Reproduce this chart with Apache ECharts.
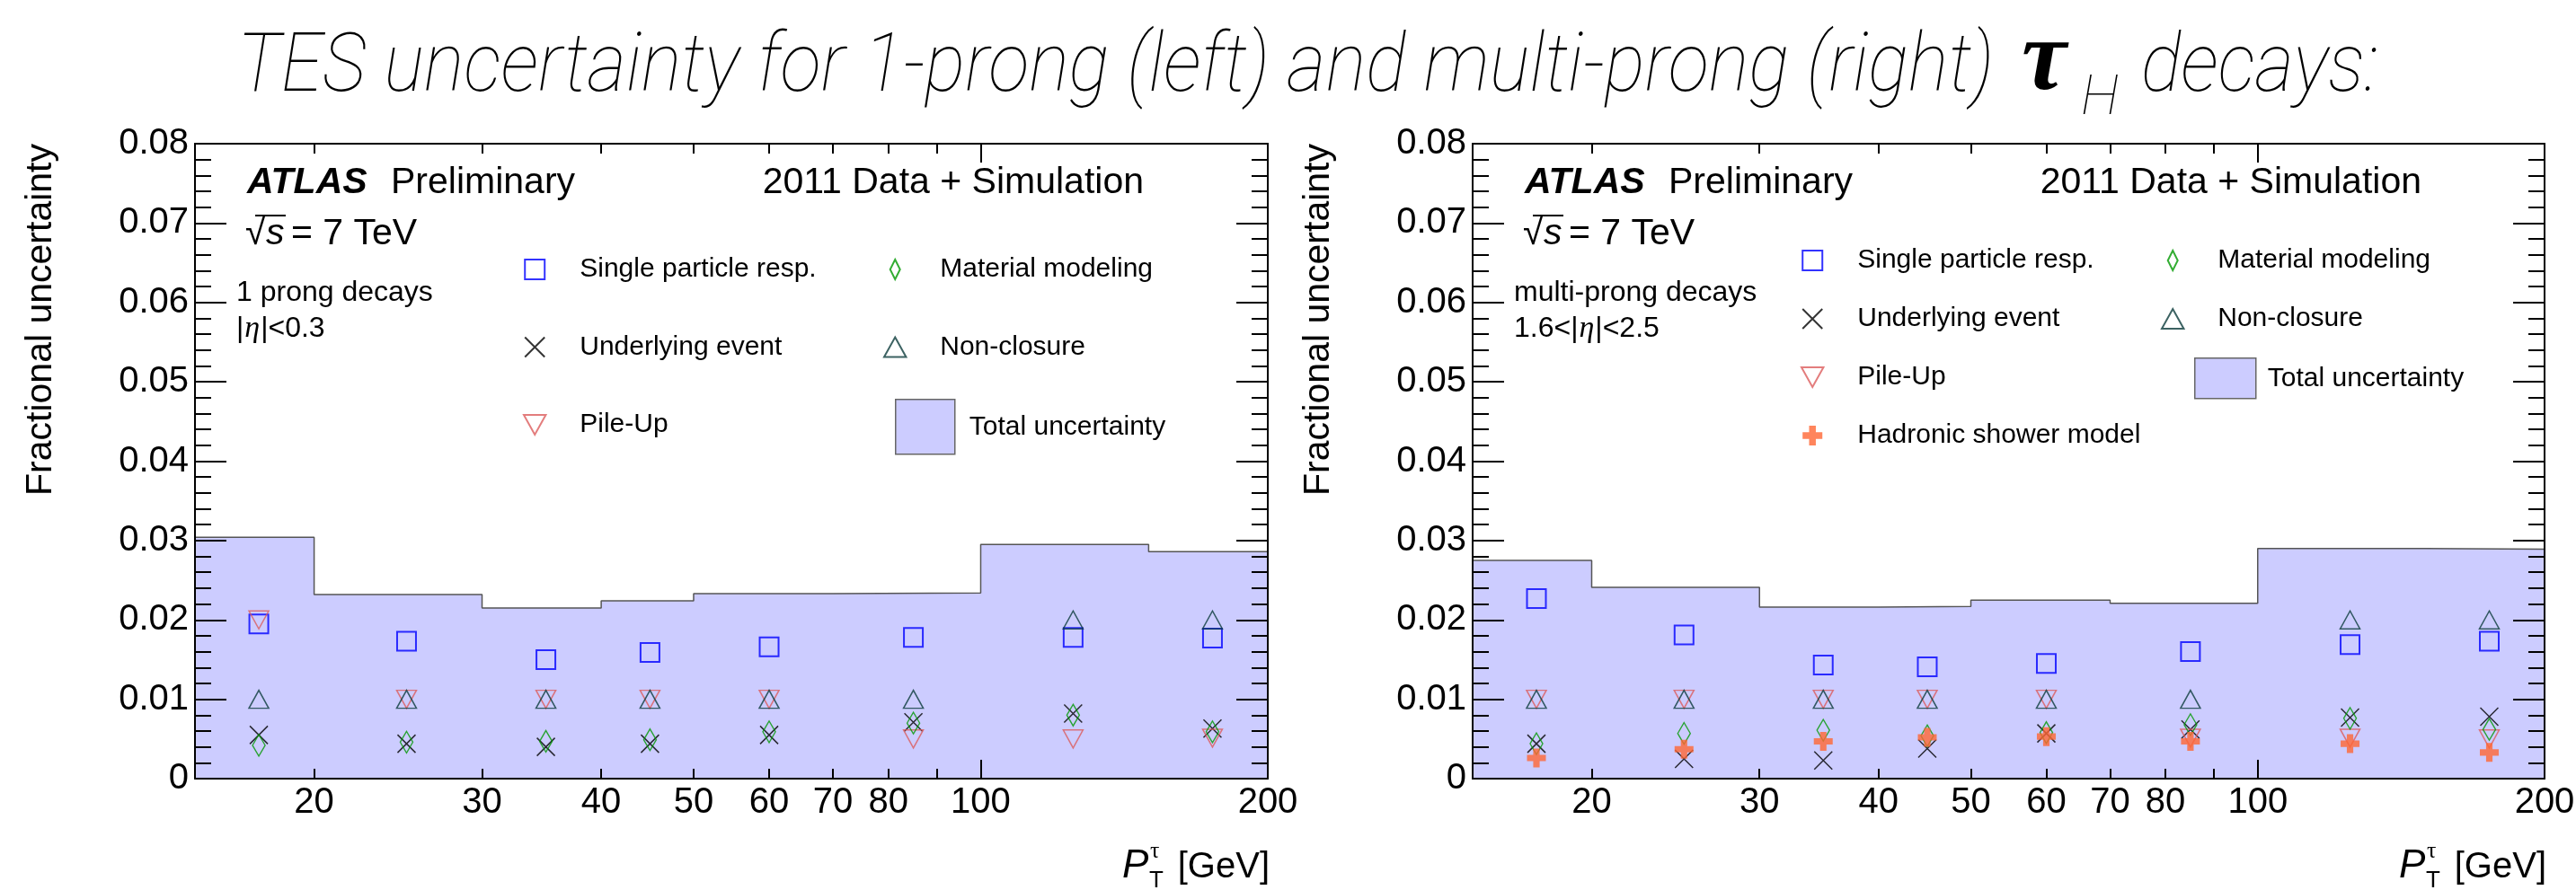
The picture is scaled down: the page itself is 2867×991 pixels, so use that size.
<!DOCTYPE html>
<html>
<head>
<meta charset="utf-8">
<title>TES uncertainty</title>
<script src="https://cdn.jsdelivr.net/npm/echarts@6/dist/echarts.min.js"></script>
<style>
  html, body { margin: 0; padding: 0; background: #fff; }
  #chart { width: 2867px; height: 991px; }
</style>
</head>
<body>
<div id="chart"></div>
<script>
// pT binning (GeV)
var binEdges = [15, 20, 30, 40, 50, 70, 100, 150, 200]
var binCenters = [17.5, 25, 35, 45, 60, 85, 125, 175]
var xTickLabels = [20, 30, 40, 50, 60, 70, 80, 100, 200]
var xSmallTicks = [20, 30, 40, 50, 60, 70, 80, 90, 200]
var xBigTicks = [100]

// 1-prong, |eta| < 0.3
var total1 = [0.0304, 0.0232, 0.0215, 0.0224, 0.0233, 0.0234, 0.0295, 0.0286]
var single1 = [0.0195, 0.0173, 0.0150, 0.0159, 0.0166, 0.0178, 0.0178, 0.0177]
var ue1 = [0.0055, 0.0044, 0.0040, 0.0044, 0.0055, 0.0071, 0.0082, 0.0063]
var pileup1 = [0.0200, 0.0100, 0.0100, 0.0100, 0.0100, 0.0050, 0.0050, 0.0051]
var material1 = [0.0042, 0.0046, 0.0047, 0.0049, 0.0059, 0.0070, 0.0080, 0.0059]
var nonclosure1 = [0.0100, 0.0100, 0.0100, 0.0100, 0.0100, 0.0100, 0.0200, 0.0200]

// multi-prong, 1.6 < |eta| < 2.5
var total2 = [0.0275, 0.0241, 0.0216, 0.0217, 0.0225, 0.0221, 0.0290, 0.0289]
var single2 = [0.0227, 0.0181, 0.0143, 0.0141, 0.0145, 0.0160, 0.0169, 0.0173]
var ue2 = [0.0044, 0.0025, 0.0023, 0.0038, 0.0057, 0.0062, 0.0077, 0.0078]
var pileup2 = [0.0100, 0.0100, 0.0100, 0.0100, 0.0100, 0.0051, 0.0051, 0.0050]
var material2 = [0.0044, 0.0057, 0.0061, 0.0054, 0.0058, 0.0068, 0.0076, 0.0062]
var nonclosure2 = [0.0100, 0.0100, 0.0100, 0.0100, 0.0100, 0.0100, 0.0200, 0.0200]
var hadronic2 = [0.0026, 0.0037, 0.0047, 0.0052, 0.0053, 0.0047, 0.0044, 0.0033]

var SANS = '"Liberation Sans", Arial, sans-serif'
var SERIF = '"Liberation Serif", "DejaVu Serif", serif'
var THIN = 'Roboto, Lato, sans-serif'

var markers = {
  single: { name: 'Single particle resp.', symbol: 'path://M0,0H10V10H0Z', size: [21, 21], stroke: '#0000ff', width: 2 },
  ue: { name: 'Underlying event', symbol: 'path://M0,0L10,10M10,0L0,10', size: [20, 20], stroke: '#000000', width: 1.5 },
  pileup: { name: 'Pile-Up', symbol: 'path://M0,0H10L5,9Z', size: [22, 20], stroke: '#dc5c5c', width: 1.5 },
  material: { name: 'Material modeling', symbol: 'path://M5,0L10,10L5,20L0,10Z', size: [14, 24], stroke: '#009900', width: 1.5 },
  nonclosure: { name: 'Non-closure', symbol: 'path://M5,0L10,9H0Z', size: [22, 20], stroke: '#0b3b3b', width: 1.5 },
  hadronic: { name: 'Hadronic shower model', symbol: 'path://M3.3,0H6.7V3.3H10V6.7H6.7V10H3.3V6.7H0V3.3H3.3Z', size: [21, 21], fill: '#ff6633' }
}

var ctx = document.createElement('canvas').getContext('2d')
function measure (text, font) {
  ctx.font = font
  return ctx.measureText(text).width
}

// text placed by its baseline
function txt (x, base, text, font, size, more) {
  var el = {
    type: 'text', x: x, y: base - 0.34 * size, silent: true,
    style: { text: text, font: font, fill: '#000', textAlign: 'left', textVerticalAlign: 'middle' }
  }
  if (more) {
    for (var k in more) el.style[k] = more[k]
  }
  return el
}

function markerSeries (key, values, gi) {
  var m = markers[key]
  return {
    type: 'scatter',
    name: m.name,
    xAxisIndex: gi * 4,
    yAxisIndex: gi * 2,
    symbol: m.symbol,
    symbolSize: m.size,
    z: 4,
    silent: true,
    itemStyle: m.fill ? { color: m.fill } : { color: 'rgba(0,0,0,0)', borderColor: m.stroke, borderWidth: m.width },
    data: binCenters.map(function (c, i) { return [c, values[i]] })
  }
}

function totalSeries (values, gi) {
  // step outline: each bin edge carries the value of the bin that starts there
  var pts = binEdges.map(function (e, i) { return [e, values[Math.min(i, values.length - 1)]] })
  return {
    type: 'line',
    name: 'Total uncertainty',
    xAxisIndex: gi * 4,
    yAxisIndex: gi * 2,
    step: 'end',
    showSymbol: false,
    symbol: 'none',
    z: 1,
    silent: true,
    lineStyle: { color: '#555', width: 1.5 },
    areaStyle: { color: '#ccccff', opacity: 1 },
    data: pts
  }
}

function xAxes (gi) {
  var tickStyle = { color: '#000', width: 2 }
  function ax (pos, ticks, len, line, labels) {
    return {
      type: 'log', logBase: 10, min: 15, max: 200, gridIndex: gi, position: pos, z: 5,
      splitLine: { show: false },
      axisLine: { show: line, onZero: false, lineStyle: { color: '#000', width: 2 } },
      axisTick: { show: true, inside: true, length: len, customValues: ticks, lineStyle: tickStyle },
      axisLabel: labels
        ? { show: true, customValues: xTickLabels, fontSize: 40, fontFamily: SANS, color: '#000', margin: 7 }
        : { show: false }
    }
  }
  return [
    ax('bottom', xSmallTicks, 11, true, true),
    ax('top', xSmallTicks, 11, true, false),
    ax('bottom', xBigTicks, 21, false, false),
    ax('top', xBigTicks, 21, false, false)
  ]
}

function yAxes (gi) {
  function ax (pos, labels) {
    return {
      type: 'value', min: 0, max: 0.08, interval: 0.01, gridIndex: gi, position: pos, z: 5,
      splitLine: { show: false },
      axisLine: { show: true, onZero: false, lineStyle: { color: '#000', width: 2 } },
      axisTick: { show: true, inside: true, length: 35, lineStyle: { color: '#000', width: 2 } },
      minorTick: { show: true, splitNumber: 5, length: 18, lineStyle: { color: '#000', width: 2 } },
      axisLabel: labels
        ? {
            show: true, fontSize: 40, fontFamily: SANS, color: '#000', margin: 7,
            formatter: function (v) { return v === 0 ? '0' : v.toFixed(2) }
          }
        : { show: false }
    }
  }
  return [ax('left', true), ax('right', false)]
}

var grids = [
  { left: 217, top: 160, width: 1194, height: 707 },
  { left: 1639, top: 160, width: 1193, height: 707 }
]

function legends (gL, rows, col1, col2, gap, box) {
  var ts = { fontSize: 30, fontFamily: SANS, color: '#000', lineHeight: 30 }
  var common = { orient: 'vertical', padding: 0, itemWidth: 90, itemHeight: 22, itemGap: gap, selectedMode: false, textStyle: ts }
  return [
    Object.assign({}, common, { left: gL + 365, top: rows[0] - 15, data: col1 }),
    Object.assign({}, common, { left: gL + 766, top: rows[0] - 15, data: col2 }),
    {
      left: box.x, top: box.y, padding: 0, itemWidth: box.w, itemHeight: box.h, selectedMode: false,
      textStyle: { fontSize: 30, fontFamily: SANS, color: '#000', lineHeight: 30, padding: [0, 0, 0, box.pad] },
      data: [{ name: 'Total uncertainty', icon: 'rect', itemStyle: { color: '#ccccff', borderColor: '#666', borderWidth: 1.5 } }]
    }
  ]
}

function panelTexts (gL, gR, decay, etaParts) {
  var big = '41px ' + SANS
  var els = [
    txt(gL + 58, 218, 'ATLAS', 'italic bold 41px ' + SANS, 41),
    txt(gL + 218, 218, 'Preliminary', big, 41),
    txt(gL + 1056, 218, '2011 Data + Simulation', big, 41, { textAlign: 'right' }),
    txt(gL + 56, 275, '\u221a', big, 41),
    txt(gL + 79, 275, 's', 'italic 41px ' + SANS, 41),
    txt(gL + 107, 275, '= 7 TeV', big, 41),
    { type: 'line', silent: true, shape: { x1: gL + 67, y1: 240, x2: gL + 101, y2: 240 }, style: { stroke: '#000', lineWidth: 2 } },
    txt(gL + 46, 337, decay, '32px ' + SANS, 32)
  ]
  var x = gL + 46
  etaParts.forEach(function (p) {
    els.push(txt(x, 377, p[0], p[1], 32))
    x += measure(p[0], p[1]) + 1
  })
  // x axis title: P_T^tau [GeV]
  els.push(txt(gR - 162, 980, 'P', 'italic 44px ' + SANS, 44))
  els.push(txt(gR - 131, 957, '\u03c4', '26px ' + SERIF, 26))
  els.push(txt(gR - 132, 990, 'T', '26px ' + SANS, 26))
  els.push(txt(gR + 2, 980, '[GeV]', '40px ' + SANS, 40, { textAlign: 'right' }))
  // y axis title, top aligned
  els.push({
    type: 'text', x: gL - 171, y: 160, rotation: Math.PI / 2, silent: true,
    style: { text: 'Fractional uncertainty', font: '41px ' + SANS, fill: '#000', textAlign: 'right', textVerticalAlign: 'middle' }
  })
  return els
}

var etaFont = 'italic 34px ' + SERIF
var plain32 = '32px ' + SANS

// headline
var headA = 'TES uncertainty for 1-prong (left) and multi-prong (right)'
var headFont = 'italic 100 91px ' + THIN
var headScale = Math.max(0.8, Math.min(1.25, (2219 - 264) / measure(headA, headFont)))
var headline = [
  Object.assign(txt(264, 109, headA, headFont, 91), { scaleX: headScale }),
  txt(2250, 108, '\u03c4', 'italic bold 112px ' + SERIF, 112),
  txt(2316, 133, 'H', 'italic 100 62px ' + THIN, 62),
  Object.assign(txt(2383, 109, 'decays:', headFont, 91), { scaleX: headScale })
]

var graphics = headline
  .concat(panelTexts(217, 1411, '1 prong decays', [['|', plain32], ['\u03b7', etaFont], ['|<0.3', plain32]]))
  .concat(panelTexts(1639, 2832, 'multi-prong decays', [['1.6<|', plain32], ['\u03b7', etaFont], ['|<2.5', plain32]]))

var legendList = legends(217, [300, 387, 473],
  ['Single particle resp.', 'Underlying event', 'Pile-Up'],
  ['Material modeling', 'Non-closure'], 56.5,
  { x: 996, y: 444, w: 66, h: 61, pad: 11 })
  .concat(legends(1639, [290, 355, 420],
    ['Single particle resp.', 'Underlying event', 'Pile-Up', 'Hadronic shower model'],
    ['Material modeling', 'Non-closure'], 35,
    { x: 2442, y: 398, w: 68, h: 45, pad: 8 }))

var Options = {
  animation: false,
  backgroundColor: '#fff',
  textStyle: { fontFamily: SANS },
  grid: grids.map(function (g) { return Object.assign({ outerBoundsMode: 'none', containLabel: false }, g) }),
  xAxis: xAxes(0).concat(xAxes(1)),
  yAxis: yAxes(0).concat(yAxes(1)),
  legend: legendList,
  graphic: graphics,
  series: [
    totalSeries(total1, 0),
    markerSeries('single', single1, 0),
    markerSeries('ue', ue1, 0),
    markerSeries('pileup', pileup1, 0),
    markerSeries('material', material1, 0),
    markerSeries('nonclosure', nonclosure1, 0),
    totalSeries(total2, 1),
    markerSeries('single', single2, 1),
    markerSeries('ue', ue2, 1),
    markerSeries('pileup', pileup2, 1),
    markerSeries('material', material2, 1),
    markerSeries('nonclosure', nonclosure2, 1),
    markerSeries('hadronic', hadronic2, 1)
  ]
}

var Chart = echarts.init(document.getElementById('chart'), null, { renderer: 'canvas' })
Chart.setOption(Options)
</script>
</body>
</html>
